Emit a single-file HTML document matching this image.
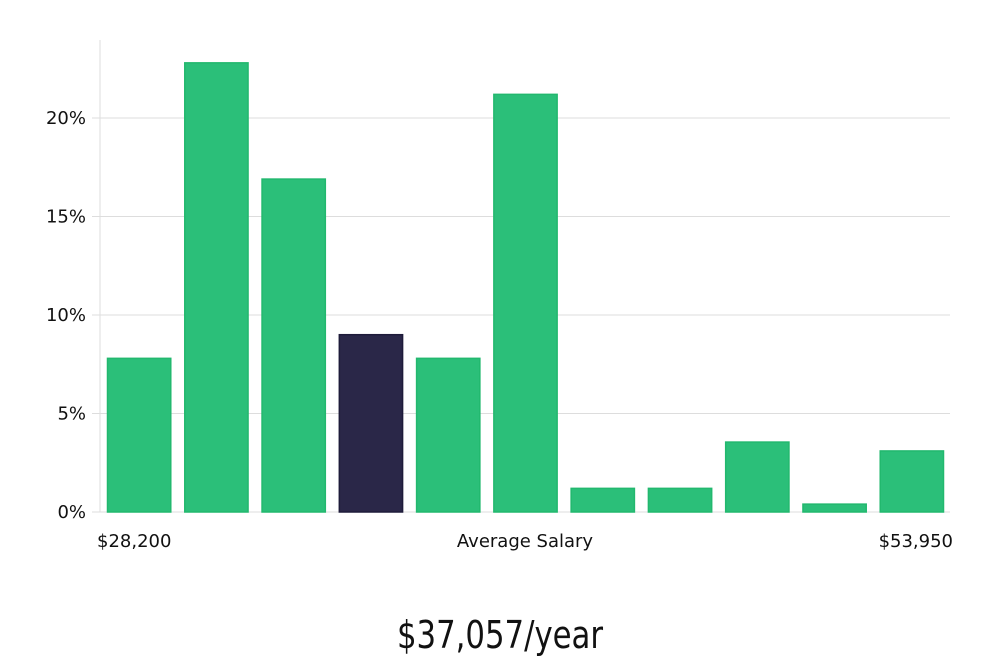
<!DOCTYPE html>
<html><head><meta charset="utf-8"><style>
html,body{margin:0;padding:0;background:#fff;width:1000px;height:660px;overflow:hidden}
svg text{font-family:"DejaVu Sans","Liberation Sans",sans-serif;fill:#111}
</style></head><body>
<svg id="chart" width="1000" height="660" xmlns="http://www.w3.org/2000/svg">
<g id="grid"></g><g id="bars"></g><g id="axes"></g>
<text x="97" y="547" font-size="18">$28,200</text>
<text x="525" y="547" font-size="18" text-anchor="middle">Average Salary</text>
<text x="953" y="547" font-size="18" text-anchor="end">$53,950</text>
<text x="500" y="648" font-size="38" text-anchor="middle" style="font-family:'Liberation Sans Narrow','DejaVu Sans Condensed','Liberation Sans',sans-serif;font-weight:300" transform="translate(500 0) scale(0.9 1) translate(-500 0)">$37,057/year</text>
</svg>
<script>
const values = [7.8, 22.8, 16.9, 9.0, 7.8, 21.2, 1.2, 1.2, 3.55, 0.4, 3.1];
const highlightIndex = 3;
const yTicks = [0, 5, 10, 15, 20];
const yTickLabels = ["0%", "5%", "10%", "15%", "20%"];

const NS = "http://www.w3.org/2000/svg";
const x0 = 100, x1 = 950, y0 = 512, pxPerPct = 19.7;
const y = v => y0 - v * pxPerPct;
const slot = (x1 - x0) / values.length;
const grid = document.getElementById('grid'), bars = document.getElementById('bars'), axes = document.getElementById('axes');

yTicks.forEach((t, i) => {
  const ln = document.createElementNS(NS, 'line');
  
  
  ln.setAttribute('x1', 92); ln.setAttribute('x2', x1);
  ln.setAttribute('y1', y(t)); ln.setAttribute('y2', y(t));
  ln.setAttribute('stroke', '#dddddd'); ln.setAttribute('stroke-width', 1);
  grid.appendChild(ln);
  const tx = document.createElementNS(NS, 'text');
  
  
  tx.setAttribute('x', 86); tx.setAttribute('y', y(t) + 6);
  tx.setAttribute('text-anchor', 'end'); tx.setAttribute('font-size', 18);
  tx.textContent = yTickLabels[i];
  axes.appendChild(tx);
});

const ax = document.createElementNS(NS, 'line');


ax.setAttribute('x1', x0); ax.setAttribute('x2', x0); ax.setAttribute('y1', 40); ax.setAttribute('y2', y0);
ax.setAttribute('stroke', '#dddddd');
axes.appendChild(ax);

values.forEach((v, i) => {
  const r = document.createElementNS(NS, 'rect');
  
  
  const bx = x0 + i * slot + 7.5, bw = slot - 14;
  r.setAttribute('x', bx); r.setAttribute('width', bw);
  r.setAttribute('y', y(v)); r.setAttribute('height', y0 - y(v));
  const hl = i === highlightIndex;
  r.setAttribute('fill', hl ? '#2a2748' : '#2bbf79');
  r.setAttribute('stroke', hl ? '#1e1b3a' : '#22b86e');
  r.setAttribute('stroke-width', 1.5);
  bars.appendChild(r);
});
</script>
</body></html>
